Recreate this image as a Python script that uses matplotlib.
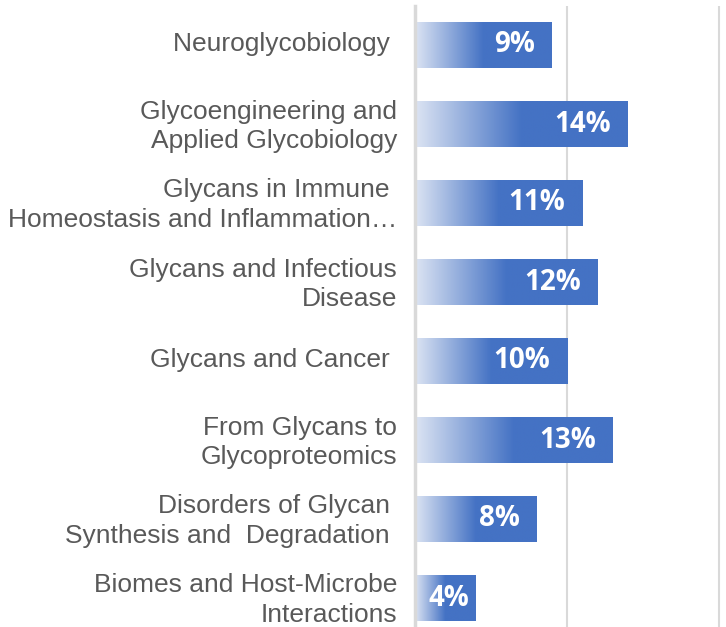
import numpy as np
import matplotlib
matplotlib.use('Agg')
import matplotlib.pyplot as plt
import matplotlib.transforms as mtransforms
from matplotlib.colors import LinearSegmentedColormap

plt.rcParams['font.family'] = ['Liberation Sans', 'DejaVu Sans']

# ========== 数据 ==========
categories = [
    'Neuroglycobiology ',
    'Glycoengineering and\nApplied Glycobiology',
    'Glycans in Immune \nHomeostasis and Inflammation\u2026',
    'Glycans and Infectious\nDisease',
    'Glycans and Cancer ',
    'From Glycans to\nGlycoproteomics',
    'Disorders of Glycan \nSynthesis and  Degradation ',
    'Biomes and Host-Microbe\nInteractions',
]
values = [9, 14, 11, 12, 10, 13, 8, 4]
value_labels = ['9%', '14%', '11%', '12%', '10%', '13%', '8%', '4%']

# ========== 画布 ==========
W, H = 726, 627
fig = plt.figure(figsize=(W / 100, H / 100), dpi=100)
xmax = 20.3
px_per_unit = 15.2
left = 415 / W
width = xmax * px_per_unit / W
top_px = 5.5
row_px = 79
ax_h = len(categories) * row_px
ax = fig.add_axes([left, 1 - (top_px + ax_h) / H, width, ax_h / H])

cmap = LinearSegmentedColormap.from_list('grad', ['#dce4f3', '#4472c4'])
bar_h = 0.58
grad = np.linspace(0, 1, 256)

for i, v in enumerate(values):
    # 渐变：前半段由浅到深，后半段纯色
    t = np.clip(grad / 0.5, 0, 1)
    ax.imshow(t[np.newaxis, :], cmap=cmap, vmin=0, vmax=1, aspect='auto',
              extent=[0, v, i + bar_h / 2, i - bar_h / 2],
              interpolation='bilinear', zorder=2)
    # 短条放不下时居中
    if v < 5:
        x, ha = v / 2 + 0.25, 'center'
    else:
        x, ha = v - 1.1, 'right'
    ax.text(x, i, value_labels[i], ha=ha, va='center',
            color='white', fontsize=20, fontweight='bold',
            family=['Open Sans', 'DejaVu Sans'], zorder=3)

for gx in [10, 20]:
    ax.axvline(gx, color='#d9d9d9', lw=1.5, zorder=1)

ax.set_xlim(0, xmax)
ax.set_ylim(len(categories) - 0.5, -0.5)
ax.set_yticks(range(len(categories)))
ax.set_yticklabels(categories, fontsize=19, color='#595959', ha='right',
                   linespacing=1.3)
ax.tick_params(axis='y', length=0, pad=13)
# 标签整体上移约 3 像素
shift = mtransforms.ScaledTranslation(0, 3 / 100, fig.dpi_scale_trans)
for lab in ax.get_yticklabels():
    lab.set_transform(lab.get_transform() + shift)
ax.set_xticks([])
for s in ['top', 'right', 'bottom']:
    ax.spines[s].set_visible(False)
ax.spines['left'].set_color('#d9d9d9')
ax.spines['left'].set_linewidth(2.5)
ax.spines['left'].set_zorder(4)

fig.savefig('out.png', dpi=100)
